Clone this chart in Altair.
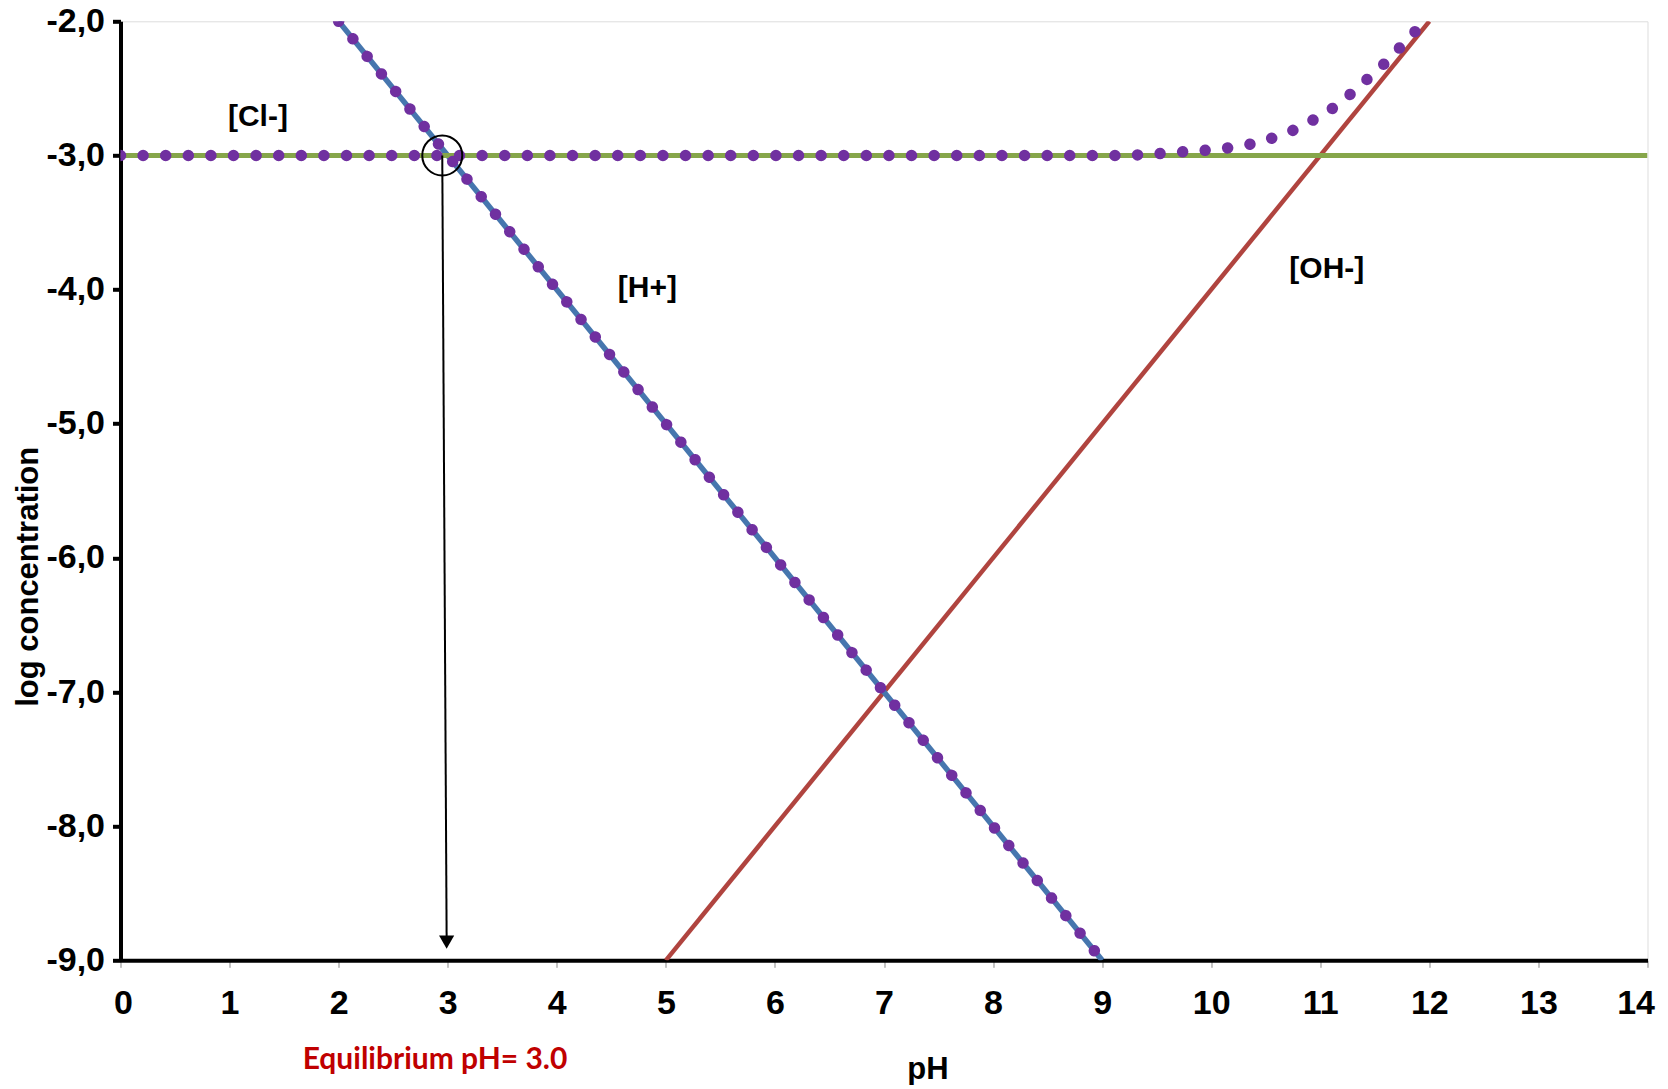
import altair as alt
import pandas as pd

# ---- data ----
PH_TICKS = list(range(0, 15))
LOG_TICKS = [-9, -8, -7, -6, -5, -4, -3, -2]

# straight lines
H_PH = [2, 9]
H_LOG = [-2, -9]
OH_PH = [5, 12]
OH_LOG = [-9, -2]
CL_PH = [0, 14]
CL_LOG = [-3, -3]

# dotted (purple) series
HDOT_PH = [2, 9]
HDOT_LOG = [-2, -9]
BAL_PH = [0, 9.16, 9.36, 9.57, 9.78, 9.98, 10.19, 10.40, 10.60, 10.79,
          10.97, 11.15, 11.31, 11.46, 11.61, 11.76, 11.90, 11.97]
BAL_LOG = [-3.0, -3.0, -2.995, -2.984, -2.97, -2.96, -2.94, -2.91, -2.86, -2.80,
           -2.72, -2.63, -2.52, -2.41, -2.30, -2.17, -2.05, -2.0]

# species labels
LABEL_TEXT = ["[Cl-]", "[H+]", "[OH-]"]
LABEL_PH = [1.26, 4.83, 11.06]
LABEL_LOG = [-2.71, -3.99, -3.85]

# equilibrium marker
EQ_PH = [2.95]
EQ_LOG = [-3.0]
ARROW_END_PH = [2.99]
ARROW_END_LOG = [-8.82]
ARROW_HEAD_PH = [2.99]
ARROW_HEAD_LOG = [-8.865]
EQ_TEXT = ["Equilibrium pH= 3.0"]
EQ_TEXT_PH = [1.67]
EQ_TEXT_LOG = [-9.807]

FONT = "Liberation Sans"

x_scale = alt.Scale(domain=[0, 14], nice=False, zero=False)
y_scale = alt.Scale(domain=[-9, -2], nice=False, zero=False)

x_axis = alt.Axis(
    values=PH_TICKS, format="d", title="pH", grid=False,
    labelFlush=True, labelFlushOffset=7, labelOverlap=False,
    domainColor="black", domainWidth=4,
    tickColor="#888888", tickWidth=1, tickSize=7,
    labelPadding=19, labelFont=FONT, labelFontSize=34, labelFontWeight="bold",
    labelColor="black",
    titleFont=FONT, titleFontSize=31, titleFontWeight="bold", titleColor="black",
    titleX=807, titleY=118, titleAlign="center", titleBaseline="alphabetic",
)
y_axis = alt.Axis(
    values=LOG_TICKS, title="log concentration", grid=False,
    labelFlush=False, labelOverlap=False,
    domainColor="black", domainWidth=4,
    tickColor="black", tickWidth=4, tickSize=8,
    labelPadding=8, labelFont=FONT, labelFontSize=34, labelFontWeight="bold",
    labelColor="black",
    labelExpr="'-' + replace(format(abs(datum.value), '.1f'), '.', ',')",
    titleFont=FONT, titleFontSize=31, titleFontWeight="bold", titleColor="black",
    titleX=-83.5, titleY=555, titleAngle=270, titleAlign="center",
    titleBaseline="alphabetic",
)


def xy(axes=False):
    if axes:
        return dict(x=alt.X("pH:Q", scale=x_scale, axis=x_axis),
                    y=alt.Y("logc:Q", scale=y_scale, axis=y_axis))
    return dict(x=alt.X("pH:Q", scale=x_scale),
                y=alt.Y("logc:Q", scale=y_scale))


def df(ph, lg):
    return pd.DataFrame({"pH": ph, "logc": lg})


red = alt.Chart(df(OH_PH, OH_LOG)).mark_line(
    color="#B0443F", strokeWidth=4.5, clip=True).encode(**xy(True))
blue = alt.Chart(df(H_PH, H_LOG)).mark_line(
    color="#4676AE", strokeWidth=5.5, clip=True).encode(**xy())
green = alt.Chart(df(CL_PH, CL_LOG)).mark_line(
    color="#86A64A", strokeWidth=5, clip=True).encode(**xy())

dot_style = dict(color="#7030A0", strokeWidth=11.5, strokeCap="round",
                 strokeDash=[0.001, 22.6], clip=True)
hdots = alt.Chart(df(HDOT_PH, HDOT_LOG)).mark_line(**dot_style).encode(**xy())
baldots = alt.Chart(df(BAL_PH, BAL_LOG)).mark_line(**dot_style).encode(**xy())

circle = alt.Chart(df(EQ_PH, EQ_LOG)).mark_point(
    shape="circle", size=1600, filled=False, stroke="black", strokeWidth=2,
    opacity=1).encode(**xy())

arrow_df = pd.DataFrame({"pH": EQ_PH, "logc": EQ_LOG,
                         "pH2": ARROW_END_PH, "logc2": ARROW_END_LOG})
arrow = alt.Chart(arrow_df).mark_rule(color="black", strokeWidth=2).encode(
    x=alt.X("pH:Q", scale=x_scale), y=alt.Y("logc:Q", scale=y_scale),
    x2="pH2:Q", y2="logc2:Q")
head = alt.Chart(df(ARROW_HEAD_PH, ARROW_HEAD_LOG)).mark_point(
    shape="triangle-down", size=230, filled=True, color="black",
    opacity=1).encode(**xy())

labels = alt.Chart(pd.DataFrame({"pH": LABEL_PH, "logc": LABEL_LOG,
                                 "t": LABEL_TEXT})).mark_text(
    font=FONT, fontSize=30, fontWeight="bold", color="black",
    align="center", baseline="middle").encode(**xy(), text="t:N")

eq_text = alt.Chart(pd.DataFrame({"pH": EQ_TEXT_PH, "logc": EQ_TEXT_LOG,
                                  "t": EQ_TEXT})).mark_text(
    font="Lato", fontSize=30, fontWeight="bold", color="#C00000",
    align="left", baseline="alphabetic").encode(**xy(), text="t:N")

chart = alt.layer(
    red, blue, green, hdots, baldots, circle, arrow, head, labels, eq_text
).properties(
    width=1527, height=939,
    padding={"left": 112.5, "top": 13.3, "right": 12, "bottom": 125},
    autosize=alt.AutoSizeParams(type="none"),
).configure_view(stroke="black", strokeWidth=4).configure(background="white")

chart.save("out.html", embed_options={"renderer": "svg", "actions": False})
